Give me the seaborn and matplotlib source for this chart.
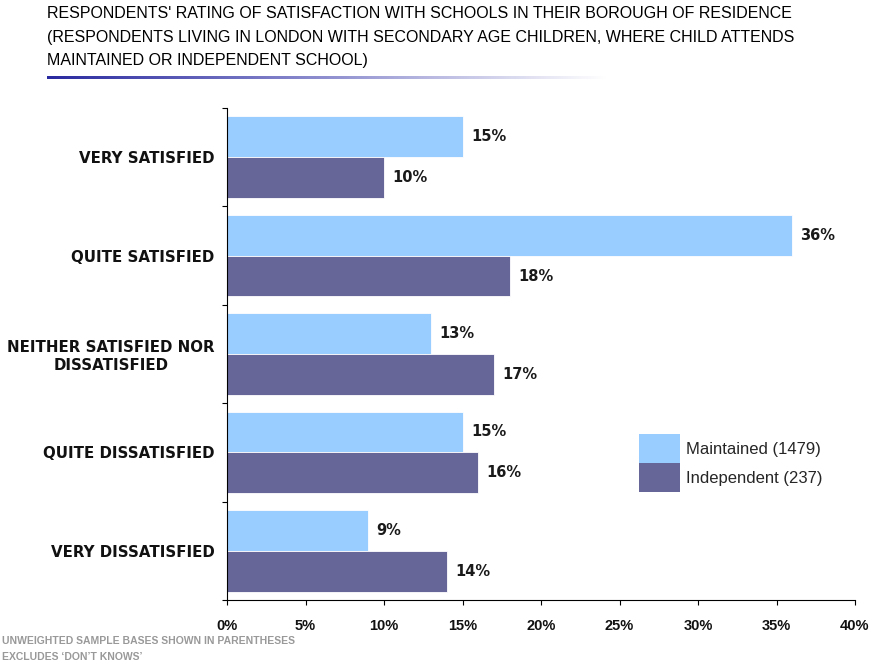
import numpy as np
import pandas as pd
import matplotlib
matplotlib.use("Agg")
import matplotlib.pyplot as plt
import seaborn as sns
from matplotlib.colors import LinearSegmentedColormap

# ── data ────────────────────────────────────────────────────────────────
categories = [
    "VERY SATISFIED",
    "QUITE SATISFIED",
    "NEITHER SATISFIED NOR\nDISSATISFIED",
    "QUITE DISSATISFIED",
    "VERY DISSATISFIED",
]
series = ["Maintained (1479)", "Independent (237)"]
maintained = [15, 36, 13, 15, 9]
independent = [10, 18, 17, 16, 14]
x_ticks = [0, 5, 10, 15, 20, 25, 30, 35, 40]

title_lines = [
    "RESPONDENTS' RATING OF SATISFACTION WITH SCHOOLS IN THEIR BOROUGH OF RESIDENCE",
    "(RESPONDENTS LIVING IN LONDON WITH SECONDARY AGE CHILDREN, WHERE CHILD ATTENDS",
    "MAINTAINED OR INDEPENDENT SCHOOL)",
]
footnotes = ["UNWEIGHTED SAMPLE BASES SHOWN IN PARENTHESES", "EXCLUDES \u2018DON\u2019T KNOWS\u2019"]

colors = ["#99CCFF", "#666699"]

df = pd.DataFrame({
    "category": categories * 2,
    "series": [series[0]] * len(categories) + [series[1]] * len(categories),
    "value": maintained + independent,
})

# ── figure ──────────────────────────────────────────────────────────────
sns.set_theme(style="white")
plt.rcParams["font.family"] = ["DejaVu Sans"]

fig = plt.figure(figsize=(8.76, 6.65), dpi=100)
ax = fig.add_axes([227 / 876, 1 - 600 / 665, 628 / 876, 492 / 665])

sns.barplot(
    data=df, y="category", x="value", hue="series", orient="h",
    palette=colors, order=categories, hue_order=series,
    width=0.83, gap=0, saturation=1, ax=ax, legend=True,
)

for patch in ax.patches:
    patch.set_edgecolor("white")
    patch.set_linewidth(0.6)

# value labels
for cont in ax.containers:
    ax.bar_label(cont, labels=[f"{int(v)}%" for v in cont.datavalues],
                 padding=6, fontsize=10.5, fontweight="bold", color="#1a1a1a")

ax.set_xlim(0, 40)
ax.set_ylim(len(categories) - 0.5, -0.5)
ax.set_xticks(x_ticks)
ax.set_xticklabels([f"{t}%" for t in x_ticks], fontsize=10.5, fontweight="bold",
                   color="#111111", family="Liberation Sans")
ax.tick_params(axis="x", direction="out", length=3.6, width=0.8, pad=10, bottom=True, color="black")

# category boundaries as major ticks, labels on minor ticks
ax.set_yticks(np.arange(-0.5, len(categories), 1.0))
ax.set_yticklabels([])
ax.set_yticks(np.arange(len(categories)), minor=True)
ax.set_yticklabels(categories, minor=True, fontsize=10.8, fontweight="bold",
                   color="#111111", multialignment="center")
ax.tick_params(axis="y", which="major", direction="out", length=3.6, width=0.8, left=True, color="black")
ax.tick_params(axis="y", which="minor", length=0, pad=9)

ax.set_xlabel("")
ax.set_ylabel("")
for side in ["top", "right"]:
    ax.spines[side].set_visible(False)
for side in ["left", "bottom"]:
    ax.spines[side].set_color("black")
    ax.spines[side].set_linewidth(0.8)

leg = ax.legend(
    loc="upper left", bbox_to_anchor=(404 / 628, 1 - 318 / 492), frameon=False,
    handlelength=2.45, handleheight=2.3, labelspacing=0, handletextpad=0.35,
    borderpad=0, prop={"family": "Liberation Sans", "size": 12},
)
for h in leg.legend_handles:
    h.set_edgecolor("none")

# title
for i, line in enumerate(title_lines):
    fig.text(47 / 876, 1 - (14 + i * 23.5) / 665, line, ha="left", va="center",
             fontsize=11.5, color="black",
             family=["Liberation Sans Narrow", "Liberation Sans"], fontstretch="condensed")

# gradient rule under the title
gax = fig.add_axes([47 / 876, 1 - 79 / 665, 560 / 876, 3 / 665])
cmap = LinearSegmentedColormap.from_list("rule", ["#2a2aa0", "#8f8fd0", "#ffffff"])
gax.imshow(np.linspace(0, 1, 256)[None, :], aspect="auto", cmap=cmap)
gax.axis("off")

# footnotes
for i, line in enumerate(footnotes):
    fig.text(2 / 876, 1 - (641 + i * 16) / 665, line, ha="left", va="center",
             fontsize=7.5, fontweight="bold", color="#999999",
             family=["Liberation Sans Narrow", "Liberation Sans"])

fig.savefig("out.png", dpi=100)
